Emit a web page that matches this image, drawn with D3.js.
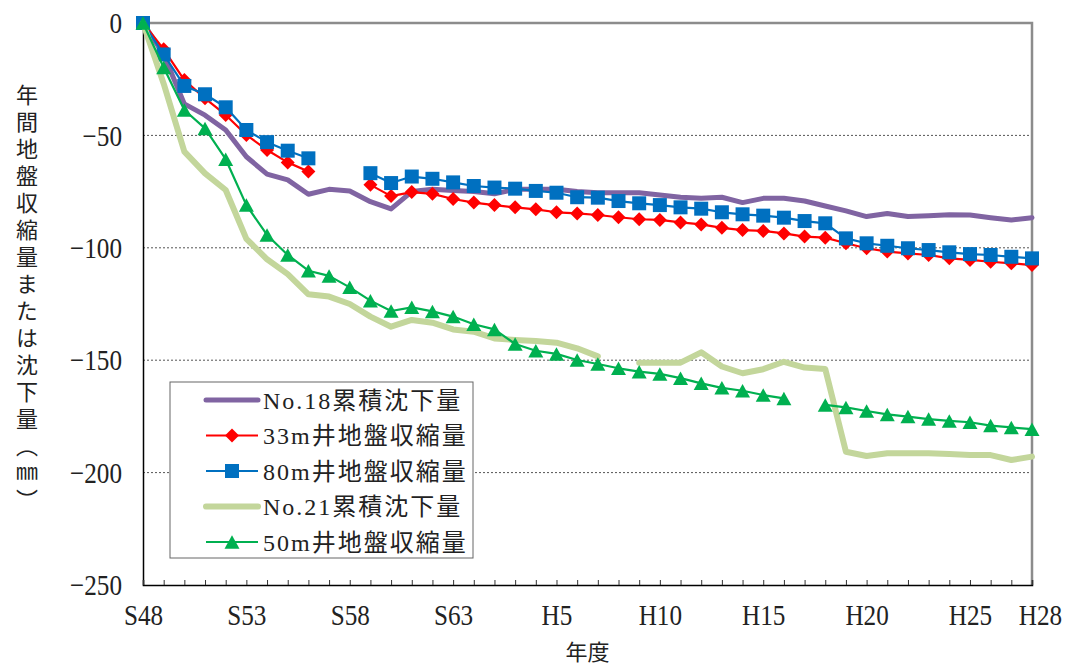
<!DOCTYPE html>
<html>
<head>
<meta charset="utf-8">
<script src="https://cdn.jsdelivr.net/npm/d3@7"></script>
<style>
  html, body { margin: 0; padding: 0; background: #fff; }
  svg { display: block; }
</style>
</head>
<body>
<svg id="chart" width="1072" height="666"></svg>
<script>
// Fiscal years S48 (1973) .. H28 (2016)
const years = [];
for (let s = 48; s <= 63; s++) years.push("S" + s);
for (let h = 1; h <= 28; h++) years.push("H" + h);
const labelledYears = ["S48", "S53", "S58", "S63", "H5", "H10", "H15", "H20", "H25", "H28"];
const yTicks = [0, -50, -100, -150, -200, -250];

// Cumulative settlement / compaction (mm); null = no measurement
const no18 = [0, -14, -36, -41, -47.6, -59.5, -67.2, -69.8, -76.2, -74, -74.7, -79.5, -82.7, -75,
  -74, -74.5, -75, -76, -74, -74, -74, -75, -75.5, -75.5, -75.5, -76.5, -77.5, -78, -77.5, -79.9,
  -78, -78, -79.2, -81.4, -83.6, -86.1, -84.7, -86.1, -85.7, -85.3, -85.4, -86.6, -87.6, -86.6];
const well33 = [0, -11.7, -25.4, -33.5, -40.9, -49.8, -56.5, -62, -66.1, null, null, -72, -77, -75.2,
  -76, -78.3, -79.9, -81, -82, -82.9, -84.2, -84.7, -85.4, -86.4, -87.3, -87.6, -88.7, -89.6, -91.1,
  -92.1, -92.5, -93.6, -95, -95.5, -98, -100.2, -101.7, -102.5, -103.2, -104.7, -105.4, -106.2, -106.9, -107.7];
const well80 = [0, -14, -28, -31.7, -37.5, -47.6, -53, -56.8, -60.2, null, null, -66.8, -71.2, -68.3,
  -69.3, -70.9, -72.5, -73.2, -73.7, -74.7, -75.5, -77.5, -77.7, -79.2, -80.2, -81, -82, -82.6, -84.2,
  -85.1, -85.7, -86.6, -88.1, -89.1, -95.8, -98, -99.1, -100.2, -101, -102, -102.8, -103.2, -104, -104.7];
const no21 = [0, -27, -57.2, -66.9, -74.3, -96, -105.1, -111.7, -120.7, -121.7, -125, -130.6, -135.1, -132.1,
  -133.3, -136.3, -137.3, -140.3, -141, -141.5, -142.2, -144.7, -148.3, null, -151.1, -151.1, -151.1, -146.5,
  -152.8, -155.8, -154, -150.7, -153.3, -153.9, -190.7, -192.6, -191.4, -191.4, -191.4, -191.7, -192.2, -192.2, -194.4, -192.9];
const well50 = [0, -19.8, -38.7, -46.9, -60.6, -81, -94.3, -103.2, -110.2, -112.5, -117.6, -123.5, -128.1, -126.5,
  -128.3, -130.6, -134, -136.3, -142.8, -145.8, -147.2, -149.9, -151.7, -153.6, -155.1, -156.1, -158, -160.3,
  -162.3, -163.6, -165.5, -167, null, -169.9, -171, -172.6, -174.1, -175.1, -176.2, -177, -177.6, -179.1, -179.9, -180.7];

const seriesNames = ["No.18累積沈下量", "33m井地盤収縮量", "80m井地盤収縮量", "No.21累積沈下量", "50m井地盤収縮量"];

const series = [
  { name: seriesNames[0], values: no18,   color: "#8064A2", width: 5,   marker: null },
  { name: seriesNames[1], values: well33, color: "#FF0000", width: 2.2, marker: "diamond" },
  { name: seriesNames[2], values: well80, color: "#0070C0", width: 2.2, marker: "square" },
  { name: seriesNames[3], values: no21,   color: "#C3D69B", width: 6,   marker: null },
  { name: seriesNames[4], values: well50, color: "#00B050", width: 2.2, marker: "triangle" }
];

const serif = '"Liberation Serif", "DejaVu Serif", "Noto Sans CJK JP", serif';
const cjk = '"Noto Sans CJK JP", "Noto Sans CJK SC", sans-serif';

const plot = { left: 143, right: 1032, top: 23, bottom: 585 };
const svg = d3.select("#chart");

const x = d3.scaleLinear().domain([0, years.length - 1]).range([plot.left, plot.right]);
const y = d3.scaleLinear().domain([-250, 0]).range([plot.bottom, plot.top]);

// Marker shapes, centred on their bounding box
function markerPath(type, s) {
  const h = s / 2;
  if (type === "diamond") return `M0,${-h}L${h},0L0,${h}L${-h},0Z`;
  if (type === "square") return `M${-h},${-h}H${h}V${h}H${-h}Z`;
  if (type === "triangle") {
    const hh = s * 0.45;
    return `M0,${-hh}L${h},${hh}L${-h},${hh}Z`;
  }
  return "";
}
const markerSize = { diamond: 14, square: 14, triangle: 15 };

// Gridlines
svg.append("g")
  .selectAll("line")
  .data(yTicks.filter(t => t !== 0 && t !== -250))
  .join("line")
  .attr("x1", plot.left).attr("x2", plot.right)
  .attr("y1", d => y(d)).attr("y2", d => y(d))
  .attr("stroke", "#555").attr("stroke-width", 1)
  .attr("stroke-dasharray", "2,2");

// Plot area border (top and right)
svg.append("path")
  .attr("d", `M${plot.left},${y(0)}H${plot.right}V${plot.bottom}`)
  .attr("fill", "none").attr("stroke", "#8c8c8c").attr("stroke-width", 2.5);

// Y axis
const yAxis = svg.append("g")
  .attr("transform", `translate(${plot.left},0)`)
  .call(d3.axisLeft(y).tickValues(yTicks).tickSize(0).tickPadding(25));
yAxis.select(".domain").attr("stroke", "#000").attr("stroke-width", 1.5);
yAxis.selectAll("text")
  .attr("font-family", serif).attr("font-size", 30).attr("fill", "#222")
  .attr("transform", "scale(0.84,1)");

// X axis with a small inward tick for every year
const xAxis = svg.append("g")
  .attr("transform", `translate(0,${plot.bottom})`)
  .call(d3.axisBottom(x).tickValues(d3.range(years.length)).tickSize(-5).tickPadding(19)
    .tickFormat(i => labelledYears.includes(years[i]) ? years[i] : ""));
xAxis.select(".domain").attr("stroke", "#000").attr("stroke-width", 1.5);
xAxis.selectAll(".tick line").attr("stroke", "#333");
xAxis.selectAll("text")
  .attr("font-family", serif).attr("font-size", 30).attr("fill", "#222")
  .attr("transform", (i) => i === years.length - 1 ? "translate(8,0) scale(0.84,1)" : "scale(0.84,1)");

// Series lines and markers
const line = d3.line()
  .defined(d => d != null)
  .x((d, i) => x(i))
  .y(d => y(d));

series.forEach(s => {
  const g = svg.append("g");
  g.append("path")
    .attr("d", line(s.values))
    .attr("fill", "none")
    .attr("stroke", s.color)
    .attr("stroke-width", s.width)
    .attr("stroke-linejoin", "round")
    .attr("stroke-linecap", "round");
  if (s.marker) {
    g.selectAll("path.m")
      .data(s.values.map((v, i) => ({ v, i })).filter(d => d.v != null))
      .join("path")
      .attr("class", "m")
      .attr("d", markerPath(s.marker, markerSize[s.marker]))
      .attr("transform", d => `translate(${x(d.i)},${y(d.v)})`)
      .attr("fill", s.color);
  }
});

// Legend
const legend = svg.append("g").attr("transform", "translate(170,382)");
legend.append("rect")
  .attr("width", 303).attr("height", 176)
  .attr("fill", "#fff").attr("stroke", "#666").attr("stroke-width", 1);
series.forEach((s, k) => {
  const row = legend.append("g").attr("transform", `translate(0,${18 + k * 35.5})`);
  row.append("line")
    .attr("x1", 36).attr("x2", 88)
    .attr("stroke", s.color).attr("stroke-width", s.width)
    .attr("stroke-linecap", s.marker ? "butt" : "round");
  if (s.marker) {
    row.append("path")
      .attr("d", markerPath(s.marker, markerSize[s.marker]))
      .attr("transform", "translate(62,0)")
      .attr("fill", s.color);
  }
  row.append("text")
    .attr("x", 93).attr("dy", "0.36em")
    .attr("font-family", serif).attr("font-size", 24)
    .attr("letter-spacing", 2)
    .attr("fill", "#222")
    .text(s.name);
});

// Axis titles
svg.append("text")
  .attr("x", 27).attr("y", 84)
  .attr("writing-mode", "vertical-rl")
  .attr("font-family", cjk).attr("font-size", 22)
  .attr("letter-spacing", 5)
  .attr("fill", "#222")
  .text("年間地盤収縮量または沈下量（㎜）");

svg.append("text")
  .attr("x", (plot.left + plot.right) / 2).attr("y", 652)
  .attr("dy", "0.36em")
  .attr("text-anchor", "middle")
  .attr("font-family", cjk).attr("font-size", 22)
  .attr("fill", "#222")
  .text("年度");
</script>
</body>
</html>
